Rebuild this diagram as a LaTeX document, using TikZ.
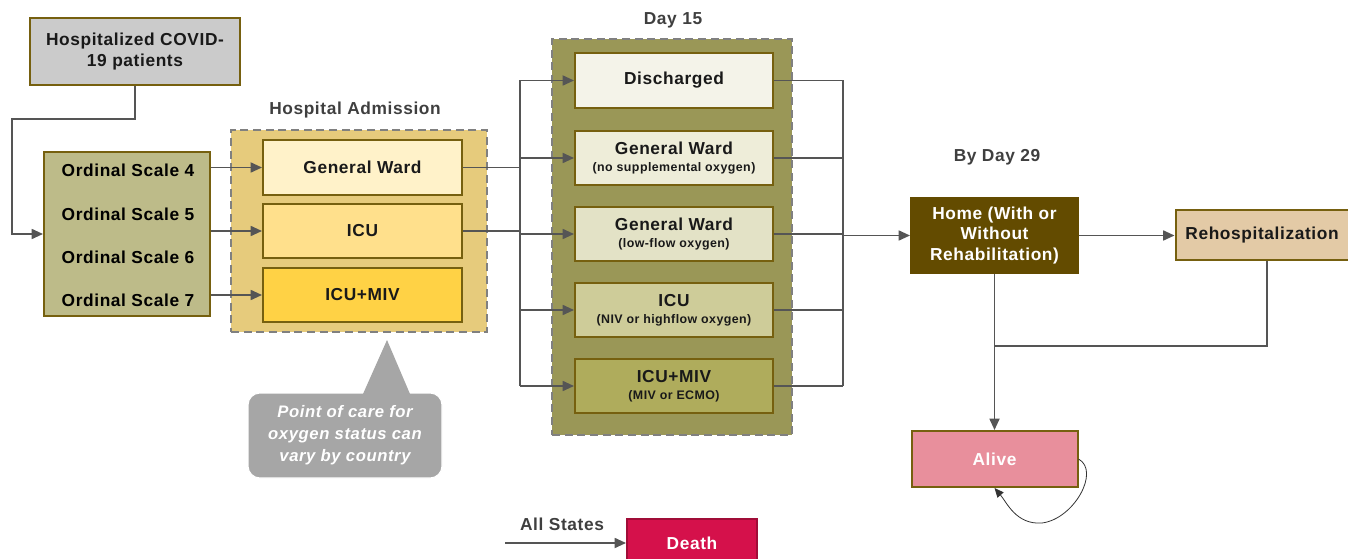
\documentclass[tikz,border=0pt]{standalone}
\usepackage{fontspec}
\setmainfont[LetterSpace=3.5]{Liberation Sans}
\usetikzlibrary{arrows.meta,calc}

\definecolor{edgebrown}{HTML}{76600F}
\definecolor{connGray}{HTML}{555555}
\definecolor{headGray}{HTML}{3F3F3F}
\definecolor{hospFill}{HTML}{CBCBCB}
\definecolor{ordFill}{HTML}{BDBB89}
\definecolor{admFill}{HTML}{E6CB7C}
\definecolor{gwFill}{HTML}{FFF2C9}
\definecolor{icuFill}{HTML}{FFE08C}
\definecolor{mivFill}{HTML}{FFD245}
\definecolor{dayFill}{HTML}{9A9757}
\definecolor{dA}{HTML}{F4F3E9}
\definecolor{dB}{HTML}{EEEDD9}
\definecolor{dC}{HTML}{E3E2C6}
\definecolor{dD}{HTML}{CECC99}
\definecolor{dE}{HTML}{AFAC5C}
\definecolor{homeFill}{HTML}{634B00}
\definecolor{rehospFill}{HTML}{E3CAA6}
\definecolor{aliveFill}{HTML}{E88F9C}
\definecolor{deathFill}{HTML}{D5114B}
\definecolor{noteFill}{HTML}{A6A6A6}

\begin{document}
\begin{tikzpicture}[x=0.75pt,y=-0.75pt,
  font=\bfseries\fontsize{13}{15.5}\selectfont,
  sz/.style 2 args={minimum width=#1*0.75pt, minimum height=#2*0.75pt, inner sep=0pt},
  box/.style={draw=edgebrown, line width=1.5pt, align=center, text=black!90},
  group/.style={draw=black!50, line width=2pt, dash pattern=on 6pt off 3.5pt},
  heading/.style={text=headGray},
  conn/.style={draw=connGray, line width=1.3pt},
  arr/.style={conn, -{Triangle[length=8.5pt,width=7.5pt]}},
]
\useasboundingbox (0,0) rectangle (1348,559);

% ---- entry and ordinal scale ----
\node[box, sz={210}{67}, fill=hospFill, font=\bfseries\fontsize{13}{16}\selectfont] (hosp) at (135,51.5)
  {Hospitalized COVID-\\19 patients};
\node[box, sz={166}{164}, fill=ordFill] (ord) at (127,234) {};
\node (o4) at (128,170) {Ordinal Scale 4};
\node (o5) at (128,214) {Ordinal Scale 5};
\node (o6) at (128,257) {Ordinal Scale 6};
\node (o7) at (128,300) {Ordinal Scale 7};
\coordinate (inL) at (12,119);
\draw[arr] (hosp.south) |- (inL) |- (ord.west);

% ---- hospital admission ----
\node[heading] (admlab) at (355,110) {Hospital Admission};
\node[group, sz={256}{202}, fill=admFill] (adm) at (359,231) {};
\node[box, sz={199}{55}, fill=gwFill] (gw) at (362.5,167.5) {General Ward};
\node[box, sz={199}{54}, fill=icuFill] (icu) at (362.5,231) {ICU};
\node[box, sz={199}{54}, fill=mivFill] (miv) at (362.5,295) {ICU+MIV};
\draw[arr] (ord.east |- gw) -- (gw.west);
\draw[arr] (ord.east |- icu) -- (icu.west);
\draw[arr] (ord.east |- miv) -- (miv.west);

% callout
\node[rounded corners=9pt, fill=noteFill, draw=white, line width=0.8pt,
      sz={194}{85}, text=white, align=center,
      font=\bfseries\itshape\fontsize{12.5}{16.5}\selectfont] (note) at (345,435.5)
  {Point of care for\\oxygen status can\\vary by country};
\coordinate (tip) at (387,340);
\fill[noteFill] ($(note.north)+(18,1.5)$) -- (tip) -- ($(note.north)+(65,1.5)$) -- cycle;

% ---- day 15 ----
\node[heading] (d15lab) at (673,20) {Day 15};
\node[group, sz={240}{396}, fill=dayFill] (day) at (672,237) {};
\node[box, sz={198}{55}, fill=dA] (d1) at (674,80.5) {Discharged};
\node[box, sz={198}{54}, fill=dB] (d2) at (674,158)
  {General Ward\\[-3pt]{\fontsize{9.3}{11}\selectfont (no supplemental oxygen)}};
\node[box, sz={198}{54}, fill=dC] (d3) at (674,234)
  {General Ward\\[-3pt]{\fontsize{9.3}{11}\selectfont (low-flow oxygen)}};
\node[box, sz={198}{54}, fill=dD] (d4) at (674,310)
  {ICU\\[-3pt]{\fontsize{9.3}{11}\selectfont (NIV or highflow oxygen)}};
\node[box, sz={198}{54}, fill=dE] (d5) at (674,386)
  {ICU+MIV\\[-3pt]{\fontsize{9.3}{11}\selectfont (MIV or ECMO)}};

\coordinate (busL) at (520,0);
\coordinate (busR) at (843,0);
\draw[conn] (gw.east) -- (gw.east -| busL);
\draw[conn] (icu.east) -- (icu.east -| busL);
\draw[conn] (busL |- d1) -- (busL |- d5);
\foreach \d in {d1,d2,d3,d4,d5}{
  \draw[arr] (busL |- \d) -- (\d.west);
  \draw[conn] (\d.east) -- (busR |- \d);
}
\draw[conn] (busR |- d1) -- (busR |- d5);

% ---- by day 29 ----
\node[heading] (d29lab) at (997,157) {By Day 29};
\node[box, sz={167}{75}, fill=homeFill, draw=homeFill, text=white] (home) at (994.5,235.5)
  {Home (With or\\Without\\Rehabilitation)};
\node[box, sz={173}{50}, fill=rehospFill] (rehosp) at (1262,235.5) {Rehospitalization};
\node[box, sz={166}{56}, fill=aliveFill, text=white] (alive) at (994.5,459) {Alive};

\draw[arr] (busR |- home) -- (home.west);
\draw[arr] (home.east) -- (rehosp.west);
\coordinate (join) at (994.5,346);
\draw[conn] ([xshift=3.5pt]rehosp.south) |- (join);
\draw[arr] (home.south) -- (alive.north);
\draw[draw=black!80, line width=0.6pt, -{Triangle[length=7pt,width=6pt]}]
  (alive.east) .. controls +(22,12) and +(32,-4) .. (1042,523)
  .. controls +(-26,2) and +(12,14) .. (alive.south);

% ---- death ----
\node[box, sz={130}{48}, fill=deathFill, draw=deathFill!75!black, text=white] (death) at (692,543) {Death};
\node[heading] (alllab) at (562,524) {All States};
\coordinate (allin) at (505,543);
\draw[arr] (allin) -- (death.west);
\end{tikzpicture}
\end{document}
